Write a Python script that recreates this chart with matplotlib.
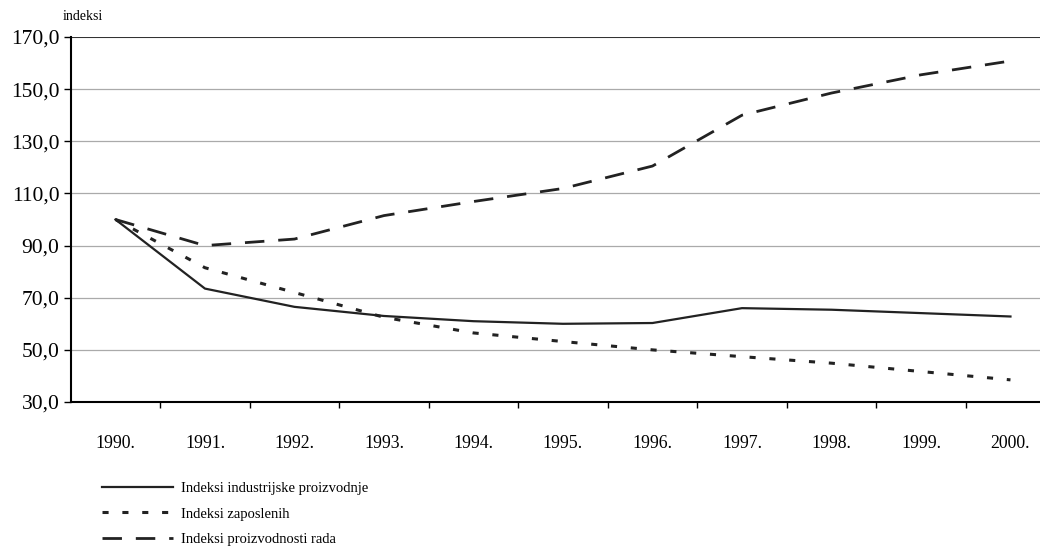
import matplotlib
matplotlib.use("Agg")
import matplotlib.pyplot as plt
import numpy as np

years = ['1990.', '1991.', '1992.', '1993.', '1994.', '1995.', '1996.', '1997.', '1998.', '1999.', '2000.']
industrija = [100.0, 73.5, 66.5, 63.0, 61.0, 60.0, 60.3, 66.0, 65.4, 64.1, 62.8]
zaposleni = [100.0, 81.5, 72.0, 62.5, 56.5, 53.2, 50.0, 47.4, 44.9, 41.7, 38.5]
produktivnost = [100.0, 90.0, 92.5, 101.5, 106.9, 111.9, 120.5, 140.0, 148.5, 155.5, 160.8]
yticks = [30, 50, 70, 90, 110, 130, 150, 170]

plt.rcParams['font.family'] = ['Liberation Serif', 'DejaVu Serif']

fig = plt.figure(figsize=(10.4, 5.52), dpi=100)
ax = fig.add_axes([0.068, 0.2717, 0.932, 0.6613])

x = np.arange(len(years))
l1, = ax.plot(x, industrija, color='#222222', lw=1.6, label='Indeksi industrijske proizvodnje')
l2, = ax.plot(x, zaposleni, color='#222222', lw=2.2, linestyle=(0, (2.0, 4.5)),
              label='Indeksi zaposlenih')
l3, = ax.plot(x, produktivnost, color='#222222', lw=2.0, linestyle=(0, (7, 5)),
              label='Indeksi proizvodnosti rada')

ax.set_ylim(30, 170)
ax.set_xlim(-0.5, 10.33)
ax.set_yticks(yticks)
ax.set_yticklabels([f'{v},0' for v in yticks], fontsize=15.5)
for v in yticks[1:-1]:
    ax.axhline(v, color='#aaaaaa', lw=0.9, zorder=0)
ax.axhline(170, color='#333333', lw=1.5, zorder=1)

ax.set_xticks(x)
ax.set_xticklabels(years, fontsize=12.8)
ax.set_xticks(x[:-1] + 0.5, minor=True)
ax.tick_params(axis='x', which='major', length=0, pad=24)
ax.tick_params(axis='x', which='minor', length=4, direction='out', width=1)
ax.tick_params(axis='y', length=5, direction='out', width=1, pad=3)

for s in ['top', 'right']:
    ax.spines[s].set_visible(False)
ax.spines['left'].set_linewidth(1.5)
ax.spines['bottom'].set_linewidth(1.5)

fig.text(0.06, 0.971, 'indeksi', fontsize=10, ha='left', va='center')

fig.legend(handles=[l1, l2, l3], loc='upper left', bbox_to_anchor=(0.092, 0.137),
           frameon=False, fontsize=10.5, handlelength=4.9, handletextpad=0.55,
           labelspacing=0.82, borderaxespad=0)

fig.savefig('out.png', dpi=100)
